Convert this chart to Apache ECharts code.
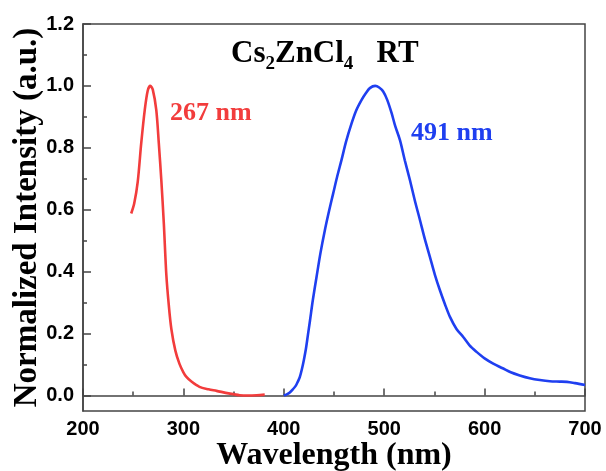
<!DOCTYPE html>
<html>
<head>
<meta charset="utf-8">
<script src="https://cdn.jsdelivr.net/npm/echarts@6/dist/echarts.min.js"></script>
<style>
html,body{margin:0;padding:0;background:#fff;}
#chart{width:606px;height:471px;}
</style>
</head>
<body>
<div id="chart"></div>
<script>
// Excitation spectrum (red): [wavelength nm, normalized intensity]
var excitation = [
  [248,0.588],[251,0.62],[254.5,0.69],[258,0.815],[261.5,0.922],[264.5,0.985],[267,1.0],
  [269.5,0.988],[273,0.922],[275.5,0.815],[278,0.696],[280.5,0.556],[283,0.39],[285.5,0.29],
  [288,0.215],[292,0.145],[296,0.103],[300,0.075],[303,0.06],[308,0.045],[316,0.028],
  [325,0.02],[333,0.015],[345,0.007],[356,0.001],[365,0.0],[373,0.001],[381,0.003]
];
// Emission spectrum (blue)
var emission = [
  [400,0.0],[403,0.004],[406,0.01],[409,0.02],[412,0.032],[414,0.045],[416,0.06],[418,0.085],
  [420,0.115],[422,0.15],[424,0.195],[426,0.24],[429,0.31],[432.6,0.383],[436.5,0.46],
  [440.9,0.534],[445,0.595],[449.2,0.653],[453,0.705],[457.5,0.761],[462,0.82],[467.5,0.879],
  [472,0.92],[477.5,0.955],[482,0.978],[485.7,0.993],[491,1.0],[495,0.995],[499,0.982],
  [503,0.955],[507.4,0.912],[511,0.87],[515.7,0.825],[520.5,0.76],[525.6,0.696],[530.5,0.63],
  [535.6,0.567],[540.5,0.505],[545.5,0.448],[550.5,0.39],[555.5,0.34],[560.5,0.295],
  [565.5,0.254],[572,0.215],[578.7,0.189],[585,0.162],[592,0.141],[600,0.12],[608.6,0.103],
  [618,0.088],[626,0.075],[635,0.065],[645,0.056],[655,0.05],[665,0.046],[675,0.045],
  [682,0.044],[690,0.04],[700,0.034]
];
// Tick values
var yMajorTicks = [0, 0.2, 0.4, 0.6, 0.8, 1.0, 1.2];
var yMinorTicks = [0.1, 0.3, 0.5, 0.7, 0.9, 1.1];
var xRange = [200, 700];
var xInterval = 100;
var peakLabels = ['267 nm', '491 nm'];

var chart = echarts.init(document.getElementById('chart'));
var axisColor = '#444';
var tickFont = {fontFamily: '"Liberation Sans", Arial, sans-serif', fontWeight: 'bold', fontSize: 20, color: '#000'};
var serif = '"Liberation Serif", "Times New Roman", serif';

chart.setOption({
  animation: false,
  backgroundColor: '#fff',
  grid: {left: 83, right: 21, top: 24, bottom: 60, show: true, borderColor: axisColor, borderWidth: 1.5,
         backgroundColor: 'transparent', containLabel: false, outerBoundsMode: 'none'},
  title: {
    text: '{m|Cs}{s|2}{m|ZnCl}{s|4}{m|   RT}',
    left: 231, top: 38, padding: 0,
    textStyle: {
      rich: {
        m: {fontFamily: serif, fontWeight: 'bold', fontSize: 31, color: '#000', lineHeight: 30, verticalAlign: 'top'},
        s: {fontFamily: serif, fontWeight: 'bold', fontSize: 19, color: '#000', lineHeight: 20, padding: [17, 0, 0, 0], verticalAlign: 'top'}
      }
    }
  },
  xAxis: {
    type: 'value', min: xRange[0], max: xRange[1], interval: xInterval,
    name: 'Wavelength (nm)', nameLocation: 'middle', nameGap: 29, nameMoveOverlap: false,
    nameTextStyle: {fontFamily: serif, fontWeight: 'bold', fontSize: 32, color: '#000', verticalAlign: 'top'},
    axisLine: {show: true, lineStyle: {color: axisColor, width: 1.5}},
    axisTick: {show: true, inside: true, length: 7, lineStyle: {color: axisColor, width: 1.5}},
    minorTick: {show: true, splitNumber: 2, length: 4, lineStyle: {color: axisColor, width: 1.5}},
    axisLabel: Object.assign({margin: 8}, tickFont),
    splitLine: {show: false}
  },
  yAxis: [{
    type: 'value', min: -0.05, max: 1.2,
    name: 'Normalized Intensity (a.u.)', nameLocation: 'middle', nameGap: 39, nameMoveOverlap: false,
    nameTextStyle: {fontFamily: serif, fontWeight: 'bold', fontSize: 33, color: '#000'},
    axisLine: {show: true, lineStyle: {color: axisColor, width: 1.5}},
    axisTick: {show: true, inside: true, length: 8, customValues: yMajorTicks, lineStyle: {color: axisColor, width: 1.5}},
    axisLabel: Object.assign({margin: 9, customValues: yMajorTicks, formatter: function (v) { return v.toFixed(1); }}, tickFont),
    splitLine: {show: false}
  }, {
    type: 'value', min: -0.05, max: 1.2, position: 'left',
    axisLine: {show: false},
    axisTick: {show: true, inside: true, length: 4, customValues: yMinorTicks, lineStyle: {color: axisColor, width: 1.5}},
    axisLabel: {show: false},
    splitLine: {show: false}
  }],
  series: [{
    type: 'line', data: excitation, yAxisIndex: 0, showSymbol: false, smooth: 0.3,
    lineStyle: {color: '#f23c3c', width: 2.6}
  }, {
    type: 'line', data: emission, yAxisIndex: 0, showSymbol: false, smooth: 0.3,
    lineStyle: {color: '#1f3ff0', width: 2.6}
  }],
  graphic: [{
    type: 'text', left: 170, top: 100,
    style: {text: peakLabels[0], fill: '#f23c3c', font: 'bold 26px ' + serif}
  }, {
    type: 'text', left: 411, top: 120,
    style: {text: peakLabels[1], fill: '#1f3ff0', font: 'bold 26px ' + serif}
  }]
});
</script>
</body>
</html>
